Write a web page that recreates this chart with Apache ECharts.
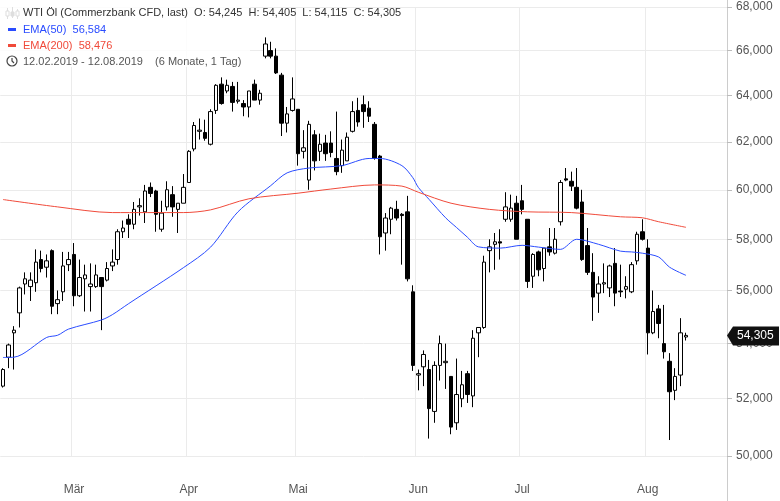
<!DOCTYPE html>
<html>
<head>
<meta charset="utf-8">
<script src="https://cdn.jsdelivr.net/npm/echarts@6/dist/echarts.min.js"></script>
<style>
  html, body { margin: 0; padding: 0; background: #fff; }
  #chart { width: 780px; height: 501px; }
</style>
</head>
<body>
<div id="chart"></div>
<script>
// daily candles, prices in thousands (WTI x1000)
const opens = [52.45,53.5,54.4,55.15,56.25,56.15,56.3,57.2,56.9,57.55,55.5,55.95,57.0,57.4,55.8,56.45,56.15,56.15,56.5,56.4,56.95,57.2,
  58.3,58.8,58.6,59.3,59.1,60.1,59.95,58.4,59.3,59.8,59.2,59.45,60.3,61.7,62.45,62.4,61.9,63.35,64.5,64.2,64.4,63.75,63.65,63.5,64.5,63.8,65.75,66.0,65.75,64.9,62.8,63.35,63.4,
  61.6,60.4,62.3,61.6,61.95,61.95,61.3,61.0,61.2,62.45,63.35,63.6,63.45,62.75,61.4,58.25,58.8,59.2,59.0,59.1,55.95,52.85,53.15,53.05,
  51.55,53.2,53.3,52.8,51.15,52.0,52.9,52.1,54.4,54.6,57.55,57.8,57.9,58.8,58.8,59.45,59.55,58.8,56.55,57.5,56.85,57.7,57.45,58.7,60.45,
  60.35,60.1,59.5,57.75,56.7,55.9,56.25,56.1,57.05,55.98,56.05,55.95,57.15,58.3,57.65,54.4,55.3,54.0,53.35,52.3,52.85,54.245];
const closes = [53.05,53.95,54.5,56.1,56.45,56.4,57.1,56.85,57.15,55.4,55.65,56.95,57.2,55.8,56.5,56.6,56.25,56.6,56.15,56.85,57.1,58.3,
  58.45,58.6,59.2,59.35,59.95,59.85,59.0,59.05,60.0,59.3,59.45,60.1,61.6,62.7,62.5,62.15,63.3,64.45,63.65,64.45,63.7,63.8,63.5,64.2,63.8,64.1,66.3,65.75,65.0,62.8,63.2,63.85,61.5,
  61.75,62.75,61.2,61.9,61.5,61.55,60.75,61.65,62.2,63.3,62.85,63.3,63.1,61.3,58.1,58.85,59.25,58.85,58.95,56.45,53.2,52.9,53.6,51.65,
  53.2,54.0,53.35,51.0,52.15,52.5,52.15,54.2,54.6,57.1,57.7,57.9,57.85,59.3,59.25,58.0,59.2,56.35,57.4,56.8,57.65,57.5,58.0,60.3,60.4,
  60.15,59.25,57.2,56.7,55.75,56.25,56.3,56.95,55.9,55.95,56.15,57.0,58.2,58.0,54.4,55.2,54.75,53.7,52.25,52.8,54.4,54.305];
const lows = [52.4,53.1,53.05,54.6,55.85,55.6,55.95,56.7,56.5,55.1,55.1,55.6,56.75,55.4,55.75,55.2,55.2,56.1,54.5,56.35,56.75,57.0,
  58.05,58.05,58.4,58.95,58.65,59.7,58.3,58.3,59.15,58.9,58.25,59.45,60.3,61.6,62.1,62.05,61.85,63.2,63.6,64.1,63.3,63.65,63.1,63.05,63.8,63.6,65.65,65.65,64.95,62.25,62.4,63.3,61.0,
  61.3,60.0,60.8,61.2,61.2,61.35,60.6,60.7,61.2,62.4,62.65,62.6,62.85,61.25,57.4,57.55,58.2,58.75,57.0,56.35,53.0,52.3,52.45,50.6,
  51.15,52.65,52.35,50.75,50.9,51.7,51.85,51.7,53.5,54.55,56.7,56.8,57.2,58.7,58.7,58.0,59.0,56.1,56.1,56.55,56.35,57.35,57.4,58.55,60.35,
  59.95,59.2,57.15,56.6,54.85,55.15,55.9,55.75,55.4,55.75,55.7,55.9,57.0,57.95,53.6,54.35,54.2,53.45,50.55,51.95,52.45,54.115];
const highs = [53.1,54.0,54.65,56.15,56.7,56.7,57.6,57.55,57.4,57.6,56.0,57.5,57.5,57.85,57.2,57.0,57.05,57.0,56.5,57.1,57.6,58.4,
  58.75,59.0,59.5,59.65,60.2,60.3,60.0,59.55,60.35,60.15,59.45,60.65,61.65,62.85,63.0,62.95,63.4,64.5,64.8,64.7,64.6,64.6,63.8,64.2,64.7,64.25,66.6,66.4,66.1,65.0,63.5,64.8,63.4,
  62.5,62.9,62.5,62.35,62.3,62.45,63.3,62.1,62.4,63.75,63.9,64.0,63.75,62.85,61.45,59.05,59.3,59.55,59.05,59.75,56.2,53.05,53.75,53.4,
  53.35,54.3,54.0,52.8,53.45,53.0,53.0,54.5,54.6,57.35,58.0,58.25,58.4,59.9,59.8,59.75,60.2,58.8,57.45,57.55,57.65,58.45,58.45,60.4,60.9,
  60.75,60.9,60.0,58.45,57.45,56.55,57.05,57.0,57.65,57.0,56.55,57.1,58.3,58.8,58.0,56.0,55.45,55.45,53.65,53.1,54.95,54.405];

// moving averages at sample candles
const ema50Idx = [0,2,8,10,12,18,20,23,33,38,43,49,52,56,62,67,69,73,75,76,78,81,83,85,87,91,95,98,102,105,109,113,115,117,120,122,125];
const ema50Val = [53.49,53.5,54.23,54.31,54.54,54.88,55.08,55.5,56.88,57.69,59.1,60.17,60.7,60.9,61.0,61.3,61.3,61.0,60.5,60.1,59.6,58.86,58.47,58.08,57.7,57.65,57.76,57.69,57.6,58.0,57.8,57.53,57.5,57.45,57.3,56.9,56.584];
const ema200Idx = [0,10,20,33,38,45,54,60,68,73,76,82,89,96,104,113,117,120,125];
const ema200Val = [59.6,59.3,59.07,59.07,59.18,59.63,59.86,60.03,60.2,60.15,59.9,59.45,59.2,59.1,59.07,58.9,58.86,58.7,58.476];

const monthNames = ['Mär','Apr','Mai','Jun','Jul','Aug'];
const monthIdx = [13,34,54,76,95,118];
const yTicks = [50000,52000,54000,56000,58000,60000,62000,64000,66000,68000];

const totalBands = 133;
const cats = [];
for (let i = 0; i < totalBands; i++) {
  const m = monthIdx.indexOf(i);
  cats.push(m >= 0 ? monthNames[m] : '');
}
const candles = opens.map((o, i) => [o * 1000, closes[i] * 1000, lows[i] * 1000, highs[i] * 1000]);
function sparse(idx, val) {
  const out = new Array(opens.length).fill(null);
  idx.forEach((k, j) => { out[k] = val[j] * 1000; });
  return out;
}
const fmt = v => Math.round(v).toLocaleString('en-US');

const chart = echarts.init(document.getElementById('chart'));
const font = 'Liberation Sans, Arial, sans-serif';
chart.setOption({
  animation: false,
  textStyle: { fontFamily: font },
  grid: { left: 0, right: 53, top: 7, bottom: 45 },
  xAxis: {
    type: 'category',
    data: cats,
    boundaryGap: true,
    axisLine: { show: false },
    axisTick: { show: false },
    axisLabel: { interval: 0, margin: 28, color: '#555', fontSize: 12, fontFamily: font },
    splitLine: { show: true, interval: (i, v) => v !== '', lineStyle: { color: '#ebebeb' } }
  },
  yAxis: {
    type: 'log',
    position: 'right',
    min: 50000,
    max: 68000,
    axisLine: { show: false },
    axisTick: { show: true, length: 5, customValues: yTicks, lineStyle: { color: '#bbb' } },
    axisLabel: { margin: 9, color: '#555', fontSize: 12, fontFamily: font, customValues: yTicks, formatter: fmt },
    splitLine: { show: true, lineStyle: { color: '#ebebeb' } }
  },
  series: [
    {
      type: 'candlestick',
      data: candles,
      barWidth: 4,
      itemStyle: { color: '#fff', color0: '#000', borderColor: '#000', borderColor0: '#000', borderWidth: 1 }
    },
    {
      type: 'line', data: sparse(ema50Idx, ema50Val), connectNulls: true, smooth: 0.3,
      showSymbol: false, lineStyle: { color: '#2a4cff', width: 1 }, z: 3
    },
    {
      type: 'line', data: sparse(ema200Idx, ema200Val), connectNulls: true, smooth: 0.3,
      showSymbol: false, lineStyle: { color: '#f04a3a', width: 1 }, z: 3
    }
  ]
});

const last = closes[closes.length - 1] * 1000;
const py = chart.convertToPixel({ yAxisIndex: 0 }, last);
const txt = (x, y, rich, parts) => ({
  type: 'text', left: x, top: y, z: 100,
  style: { text: parts, rich: rich, font: '11px ' + font }
});
const rich = {
  g: { fill: '#333', fontSize: 11, fontFamily: font },
  b: { fill: '#2a4cff', fontSize: 11, fontFamily: font },
  r: { fill: '#f04a3a', fontSize: 11, fontFamily: font },
  d: { fill: '#555', fontSize: 11, fontFamily: font }
};
chart.setOption({
  graphic: [
    { type: 'line', shape: { x1: 727.5, y1: 0, x2: 727.5, y2: 501 }, style: { stroke: '#ccc', lineWidth: 1 } },
    { type: 'rect', shape: { x: 0, y: 3, width: 250, height: 64 }, style: { fill: 'rgba(255,255,255,0.85)' }, z: 90 },
    // candle icon
    { type: 'group', z: 100, children: [
      { type: 'line', shape: { x1: 7.5, y1: 8, x2: 7.5, y2: 19 }, style: { stroke: '#222' } },
      { type: 'rect', shape: { x: 6, y: 11, width: 3, height: 5 }, style: { fill: '#fff', stroke: '#222' } },
      { type: 'line', shape: { x1: 12.5, y1: 7, x2: 12.5, y2: 18 }, style: { stroke: '#222' } },
      { type: 'rect', shape: { x: 11, y: 12, width: 3, height: 4 }, style: { fill: '#222', stroke: '#222' } },
      { type: 'line', shape: { x1: 17.5, y1: 9, x2: 17.5, y2: 19 }, style: { stroke: '#222' } },
      { type: 'rect', shape: { x: 16, y: 11, width: 3, height: 5 }, style: { fill: '#fff', stroke: '#222' } }
    ] },
    txt(23, 7, rich, '{g|WTI Öl (Commerzbank CFD, last)  O: ' + fmt(opens[125] * 1000) + '  H: ' + fmt(highs[125] * 1000) +
      '  L: ' + fmt(lows[125] * 1000) + '  C: ' + fmt(last) + '}'),
    { type: 'rect', shape: { x: 8, y: 28, width: 8, height: 3 }, style: { fill: '#2a4cff' }, z: 100 },
    txt(23, 24, rich, '{b|EMA(50)  ' + fmt(ema50Val[ema50Val.length - 1] * 1000) + '}'),
    { type: 'rect', shape: { x: 8, y: 44, width: 8, height: 3 }, style: { fill: '#f04a3a' }, z: 100 },
    txt(23, 40, rich, '{r|EMA(200)  ' + fmt(ema200Val[ema200Val.length - 1] * 1000) + '}'),
    { type: 'circle', shape: { cx: 12, cy: 61, r: 5 }, style: { fill: 'none', stroke: '#444', lineWidth: 1.2 }, z: 100 },
    { type: 'polyline', shape: { points: [[12, 58], [12, 61], [14, 63]] }, style: { stroke: '#444', lineWidth: 1.2, fill: 'none' }, z: 100 },
    txt(23, 56, rich, '{d|12.02.2019 - 12.08.2019    (6 Monate, 1 Tag)}'),
    // last price tag
    { type: 'polygon', z: 100, shape: { points: [[727, py], [733, py - 9], [779, py - 9], [779, py + 10], [733, py + 10]] }, style: { fill: '#111' } },
    { type: 'text', z: 101, left: 737, top: py - 6, style: { text: fmt(last), fill: '#fff', font: '12px ' + font } }
  ]
});
</script>
</body>
</html>
